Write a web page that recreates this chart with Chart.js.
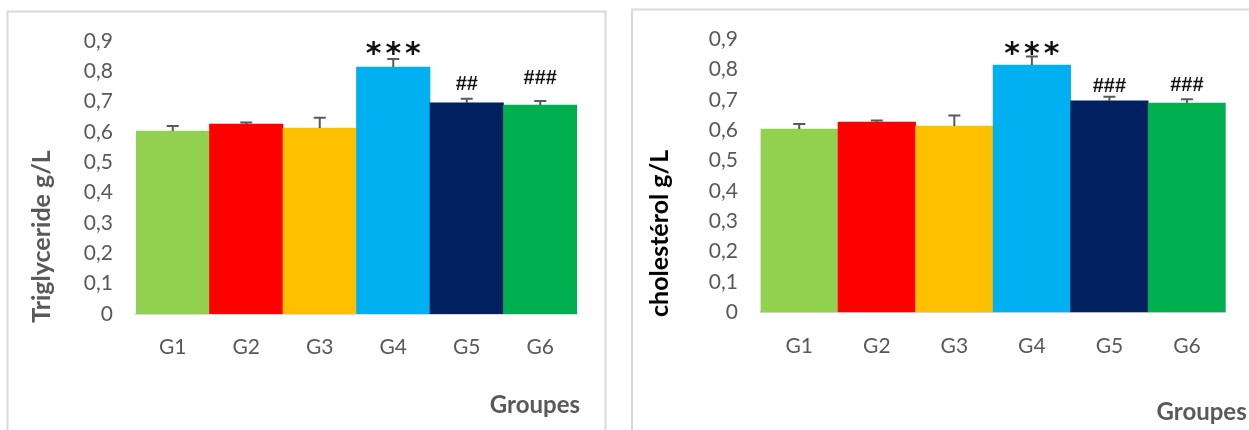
<!DOCTYPE html>
<html>
<head>
<meta charset="utf-8">
<script src="https://cdn.jsdelivr.net/npm/chart.js@4.4.1/dist/chart.umd.min.js"></script>
<style>
  html, body { margin: 0; padding: 0; background: #fff; width: 1249px; height: 430px; overflow: hidden; }
  canvas { position: absolute; top: 0; }
  #trig { left: 0; }
  #chol { left: 620px; }
</style>
</head>
<body>
<canvas id="trig" width="620" height="430"></canvas>
<canvas id="chol" width="629" height="430"></canvas>
<script>
// Groups and their fill colours
const groups = ['G1', 'G2', 'G3', 'G4', 'G5', 'G6'];
const barColors = ['#92D050', '#FF0000', '#FFC000', '#00B0F0', '#002060', '#00B050'];
const yTickLabels = ['0', '0,1', '0,2', '0,3', '0,4', '0,5', '0,6', '0,7', '0,8', '0,9'];

// Triglycerides (g/L): means, standard errors, significance marks
const trigMeans = [0.603, 0.626, 0.613, 0.814, 0.696, 0.689];
const trigErrors = [0.017, 0.005, 0.034, 0.027, 0.014, 0.013];
const trigMarks = ['', '', '', '***', '##', '###'];
const trigMarkLevels = [null, null, null, 0.874, 0.762, 0.782];

// Cholesterol (g/L): means, standard errors, significance marks
const cholMeans = [0.604, 0.627, 0.614, 0.815, 0.697, 0.690];
const cholErrors = [0.017, 0.005, 0.035, 0.028, 0.014, 0.012];
const cholMarks = ['', '', '', '***', '###', '###'];
const cholMarkLevels = [null, null, null, 0.870, 0.748, 0.751];

const TEXT_GREY = '#595959';
const FONT = 'Lato';

// Panel frame, upper error whiskers, significance marks and axis titles
const panelDecor = {
  id: 'panelDecor',
  beforeDraw(chart, args, o) {
    const ctx = chart.ctx;
    const f = o.frame;
    ctx.save();
    ctx.strokeStyle = '#D9D9D9';
    ctx.lineWidth = 2;
    ctx.beginPath();
    ctx.moveTo(f.left, chart.height + 4);
    ctx.lineTo(f.left, f.top);
    if (f.right !== null) {
      ctx.lineTo(f.right, f.top);
      ctx.lineTo(f.right, chart.height + 4);
    } else {
      ctx.lineTo(chart.width + 4, f.top);
    }
    ctx.stroke();
    ctx.restore();
  },
  afterDatasetsDraw(chart, args, o) {
    const ctx = chart.ctx;
    const y = chart.scales.y;
    const ds = chart.data.datasets[0];
    const meta = chart.getDatasetMeta(0);
    ctx.save();
    // error whiskers (upper half)
    ctx.strokeStyle = TEXT_GREY;
    ctx.lineWidth = 2;
    ds.data.forEach((v, i) => {
      const bar = meta.data[i];
      const top = y.getPixelForValue(v + ds.errors[i]);
      ctx.beginPath();
      ctx.moveTo(bar.x, bar.y);
      ctx.lineTo(bar.x, top);
      ctx.moveTo(bar.x - 6, top);
      ctx.lineTo(bar.x + 6, top);
      ctx.stroke();
    });
    // significance marks, ink centred on their level
    ctx.textAlign = 'center';
    ctx.textBaseline = 'alphabetic';
    o.marks.forEach((m, i) => {
      if (!m) return;
      const bar = meta.data[i];
      const stars = m.startsWith('*');
      const spacing = stars ? 4 : 0;
      ctx.font = stars ? 'bold 30px "DejaVu Sans"' : 'bold 20px "Liberation Sans"';
      ctx.letterSpacing = spacing + 'px';
      ctx.fillStyle = '#111111';
      const mt = ctx.measureText(m);
      const cy = y.getPixelForValue(o.levels[i]);
      ctx.fillText(m, bar.x + spacing / 2, cy + (mt.actualBoundingBoxAscent - mt.actualBoundingBoxDescent) / 2);
    });
    ctx.letterSpacing = '0px';
    ctx.restore();
  },
  afterDraw(chart, args, o) {
    const ctx = chart.ctx;
    ctx.save();
    // vertical axis title
    ctx.font = 'bold 25px ' + FONT;
    ctx.fillStyle = o.yTitle.color;
    ctx.textAlign = 'center';
    ctx.textBaseline = 'alphabetic';
    ctx.translate(o.yTitle.x, o.yTitle.y);
    ctx.rotate(-Math.PI / 2);
    ctx.fillText(o.yTitle.text, 0, 0);
    ctx.setTransform(1, 0, 0, 1, 0, 0);
    // horizontal axis title
    ctx.font = 'bold 24px ' + FONT;
    ctx.fillStyle = TEXT_GREY;
    ctx.textAlign = 'right';
    ctx.fillText(o.xTitle.text, o.xTitle.right, o.xTitle.y);
    ctx.restore();
  }
};

function makeChart(id, means, errors, marks, levels, deco) {
  return new Chart(document.getElementById(id), {
    type: 'bar',
    data: {
      labels: groups,
      datasets: [{
        data: means,
        errors: errors,
        backgroundColor: barColors,
        borderWidth: 0,
        categoryPercentage: 1,
        barPercentage: 1
      }]
    },
    options: {
      responsive: false,
      animation: false,
      devicePixelRatio: 1,
      layout: { padding: deco.padding },
      plugins: {
        legend: { display: false },
        tooltip: { enabled: false },
        panelDecor: {
          frame: deco.frame,
          marks: marks,
          levels: levels,
          yTitle: deco.yTitle,
          xTitle: deco.xTitle
        }
      },
      scales: {
        x: {
          grid: { display: false, drawTicks: false },
          border: { display: true, color: '#D9D9D9', width: 2 },
          ticks: { color: TEXT_GREY, font: { family: FONT, size: 21 }, padding: 21 },
          afterFit(s) { s.height = deco.xHeight; }
        },
        y: {
          min: 0,
          max: 0.9,
          grid: { display: false, drawTicks: false },
          border: { display: false },
          ticks: {
            stepSize: 0.1,
            color: TEXT_GREY,
            font: { family: FONT, size: 21 },
            padding: deco.tickPad,
            callback: (v) => yTickLabels[Math.round(v * 10)]
          },
          afterFit(s) { s.width = deco.yWidth; }
        }
      }
    },
    plugins: [panelDecor]
  });
}

makeChart('trig', trigMeans, trigErrors, trigMarks, trigMarkLevels, {
  padding: { left: 16, right: 43, top: 41, bottom: 0 },
  yWidth: 120,
  xHeight: 116,
  tickPad: 23,
  frame: { left: 7.5, top: 11.5, right: 605.5 },
  yTitle: { text: 'Triglyceride g/L', color: TEXT_GREY, x: 50, y: 236.5 },
  xTitle: { text: 'Groupes', right: 580, y: 412.7 }
});

makeChart('chol', cholMeans, cholErrors, cholMarks, cholMarkLevels, {
  padding: { left: 16, right: 23.3, top: 39.3, bottom: 0 },
  yWidth: 124.5,
  xHeight: 117.7,
  tickPad: 22.5,
  frame: { left: 12, top: 9.5, right: null },
  yTitle: { text: 'cholestérol g/L', color: '#000000', x: 48.3, y: 233.4 },
  xTitle: { text: 'Groupes', right: 626.7, y: 420 }
});
</script>
</body>
</html>
